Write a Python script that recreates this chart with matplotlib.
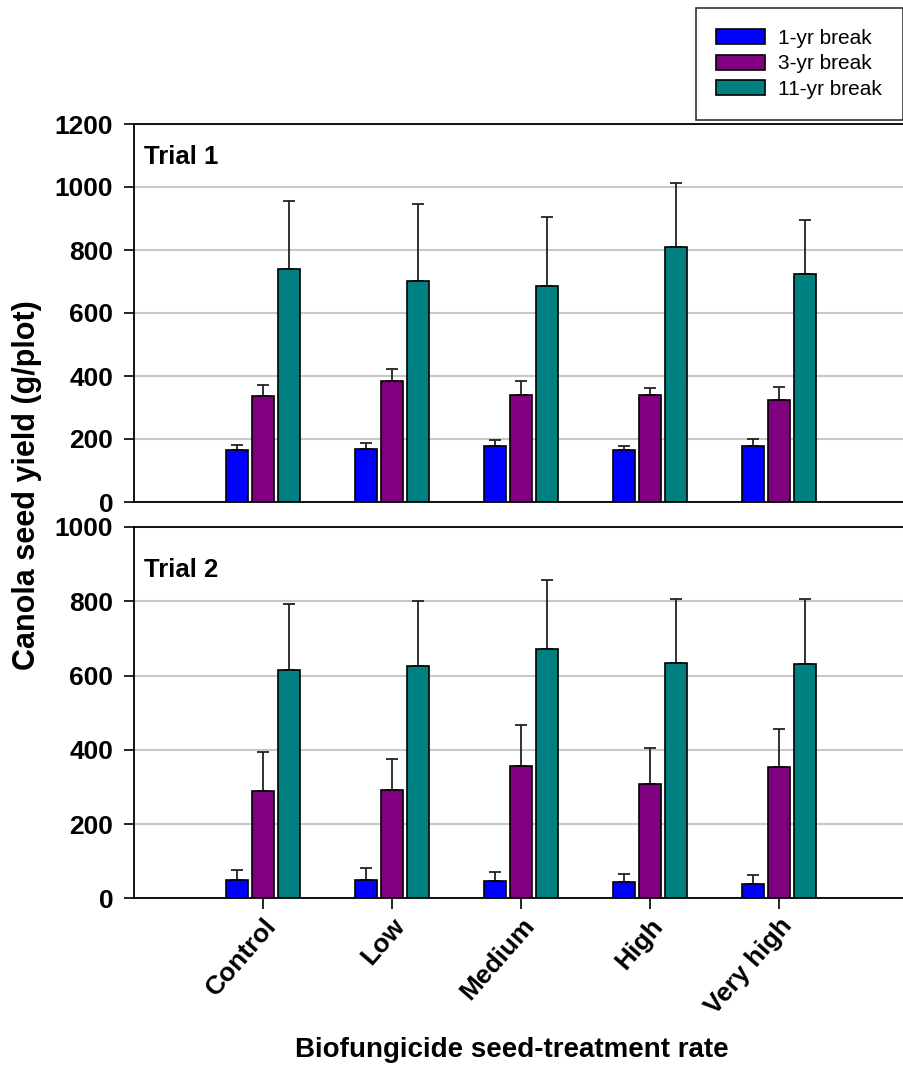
import numpy as np
import matplotlib
matplotlib.use("Agg")
import matplotlib.pyplot as plt
from matplotlib.patches import Patch

plt.rcParams['font.family'] = ['Liberation Sans', 'DejaVu Sans']

# 数据
rates = ['Control', 'Low', 'Medium', 'High', 'Very high']
series = ['1-yr break', '3-yr break', '11-yr break']
colors = ['#0000ff', '#800080', '#008080']

trial1_1yr = [164, 168, 179, 164, 178]
trial1_3yr = [336, 384, 340, 340, 325]
trial1_11yr = [739, 703, 686, 811, 725]
trial1_1yr_err = [18, 18, 19, 13, 21]
trial1_3yr_err = [35, 37, 45, 21, 41]
trial1_11yr_err = [217, 242, 220, 203, 169]

trial2_1yr = [49, 50, 47, 44, 39]
trial2_3yr = [289, 292, 356, 308, 354]
trial2_11yr = [614, 625, 672, 633, 630]
trial2_1yr_err = [27, 32, 25, 22, 24]
trial2_3yr_err = [106, 84, 111, 97, 103]
trial2_11yr_err = [179, 175, 185, 173, 175]

fig = plt.figure(figsize=(9.04, 10.74), dpi=100)
W, H = 904, 1074
left = 134 / W
width = (908 - 134) / W
ax1 = fig.add_axes([left, 1 - 502 / H, width, (502 - 124) / H])
ax2 = fig.add_axes([left, 1 - 898.3 / H, width, (898.3 - 527) / H])

x = np.arange(1, len(rates) + 1)
bw = 0.173
step = 0.2


def draw_panel(ax, vals, errs, ymax, label, label_y):
    for i, (v, e) in enumerate(zip(vals, errs)):
        pos = x + (i - 1) * step
        ax.bar(pos, v, bw, color=colors[i], edgecolor='black', linewidth=1.2, zorder=3)
        ax.errorbar(pos, v, yerr=[np.zeros(len(e)), e], fmt='none', ecolor='#222222',
                    elinewidth=1.3, capsize=4, capthick=1.3, zorder=2)
    ax.set_xlim(0, 6)
    ax.set_ylim(0, ymax)
    ax.set_yticks(np.arange(0, ymax + 1, 200))
    ax.yaxis.grid(True, color='#c8c8c8', linewidth=1.5, zorder=0)
    ax.set_axisbelow(True)
    ax.spines['right'].set_visible(False)
    for s in ['top', 'left', 'bottom']:
        ax.spines[s].set_linewidth(1.3)
    ax.tick_params(axis='y', direction='out', length=7, width=1.2, labelsize=19, pad=8)
    for t in ax.get_yticklabels():
        t.set_fontweight('bold')
    ax.text(0.013, label_y, label, transform=ax.transAxes, fontsize=18.5,
            fontweight='bold', va='baseline', ha='left')


draw_panel(ax1, [trial1_1yr, trial1_3yr, trial1_11yr],
           [trial1_1yr_err, trial1_3yr_err, trial1_11yr_err], 1200, 'Trial 1', 0.894)
draw_panel(ax2, [trial2_1yr, trial2_3yr, trial2_11yr],
           [trial2_1yr_err, trial2_3yr_err, trial2_11yr_err], 1000, 'Trial 2', 0.865)

ax1.set_xticks([])
ax2.set_xticks(x)
ax2.set_xticklabels(rates, rotation=49, ha='right', rotation_mode='anchor',
                    fontsize=19, fontweight='bold')
ax2.tick_params(axis='x', direction='out', length=8, width=1.2, pad=3)

fig.text(0.5 * (297 + 727) / W, 1 - 1050 / H, 'Biofungicide seed-treatment rate',
         ha='center', va='center', fontsize=20, fontweight='bold')
fig.text(27 / W, 1 - 485 / H, 'Canola seed yield (g/plot)', rotation=90,
         ha='center', va='center', fontsize=22, fontweight='bold')

handles = [Patch(facecolor=c, edgecolor='black', linewidth=1.2) for c in colors]
leg = fig.legend(handles, series, loc='upper right', bbox_to_anchor=(903 / W, 1 - 8 / H),
                 fontsize=15, frameon=True, fancybox=False, edgecolor='black',
                 borderaxespad=0, handlelength=2.35, handleheight=0.72, labelspacing=0.32,
                 handletextpad=0.62, borderpad=1.0)
leg.get_frame().set_linewidth(1.2)

fig.savefig('out.png', dpi=100)
